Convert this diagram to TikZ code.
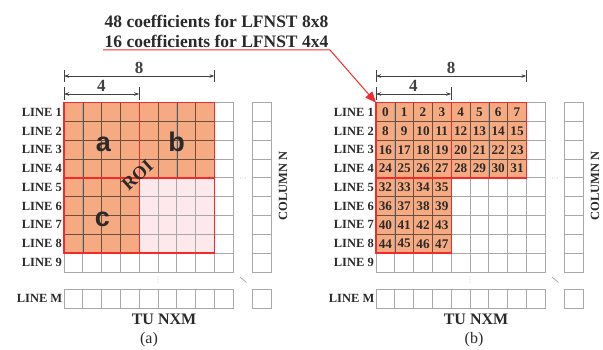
\documentclass[tikz,border=0pt]{standalone}
\usepackage{fontspec}
\setmainfont{Liberation Serif}
\newfontfamily\sansf{Liberation Sans}
\usetikzlibrary{arrows.meta}
\definecolor{orng}{HTML}{F6AA82}
\definecolor{pnk}{HTML}{FDE9EC}
\definecolor{redl}{HTML}{F42A2A}
\definecolor{gridg}{HTML}{A8A8A8}
\definecolor{darkl}{HTML}{6A4E40}
\definecolor{dimc}{HTML}{404040}
\definecolor{txt}{HTML}{2A2A2A}
\def\cs{18.8}
\def\nx{188.3}
\def\my{186.6}
\tikzset{
  cellgrid/.style={draw=gridg, line width=0.8pt},
  innergrid/.style={draw=darkl, line width=0.6pt},
  redbox/.style={draw=redl, line width=1.3pt},
  linelab/.style={anchor=east, font=\fontsize{12.5}{12.5}\selectfont\bfseries, text=txt, inner sep=1pt},
  dimline/.style={draw=dimc, line width=0.8pt, {Stealth[length=5pt,width=3.5pt]}-{Stealth[length=5pt,width=3.5pt]}},
  dimtick/.style={draw=dimc, line width=0.8pt},
  dimlab/.style={font=\fontsize{17}{17}\selectfont\bfseries, text=dimc, inner sep=0pt},
  numlab/.style={font=\fontsize{13.2}{13.2}\selectfont\bfseries, text=txt, inner sep=0pt},
  biglet/.style={font=\sansf\fontsize{27}{27}\selectfont\bfseries, text=txt, inner sep=0pt, anchor=base},
  collab/.style={font=\fontsize{12.5}{12.5}\selectfont\bfseries, text=txt, rotate=90, inner sep=0pt},
  tulab/.style={font=\fontsize{16}{16}\selectfont\bfseries, text=txt, inner sep=0pt},
  caplab/.style={font=\fontsize{16}{16}\selectfont, text=txt, inner sep=0pt},
  toplab/.style={font=\fontsize{17.5}{17.5}\selectfont\bfseries, text=txt, anchor=west, inner sep=0pt},
  dotsg/.style={fill=gray!80},
}
\newcommand\gridbase[2]{%
  \foreach \r in {0,...,8}{%
    \foreach \c in {0,...,8}{\draw[cellgrid] ({\c*\cs},{\r*\cs}) rectangle ++(\cs,\cs);}
    \draw[cellgrid] (\nx,{\r*\cs}) rectangle ++(\cs,\cs);}
  \foreach \c in {0,...,8}{\draw[cellgrid] ({\c*\cs},\my) rectangle ++(\cs,\cs);}
  \draw[cellgrid] (\nx,\my) rectangle ++(\cs,\cs);
  % inner dark lines of the L region
  \foreach \r in {0,...,3}{\foreach \c in {0,...,7}{\draw[innergrid] ({\c*\cs},{\r*\cs}) rectangle ++(\cs,\cs);}}
  \foreach \r in {4,...,7}{\foreach \c in {0,...,3}{\draw[innergrid] ({\c*\cs},{\r*\cs}) rectangle ++(\cs,\cs);}}
  % line labels
  \foreach \r in {1,...,9}{\node[linelab] (#1l\r) at (-1,{(\r-0.5)*\cs}) {LINE \r};}
  \node[linelab] (#1lM) at (-0.5,{\my+\cs/2}) {LINE M};
  % dimensions
  \draw[dimtick] (0,-32.7) -- (0,-20.7) (150.4,-32.7) -- (150.4,-20.7);
  \draw[dimline] (0,-26.7) -- (150.4,-26.7);
  \node[dimlab] (#1d8) at (75.2,-35) {8};
  \draw[dimtick] (0,-15.7) -- (0,-2.7) (75.2,-15.7) -- (75.2,-2.7);
  \draw[dimline] (0,-8.7) -- (75.2,-8.7);
  \node[dimlab] (#1d4) at (37.4,-16.5) {4};
  % dots
  \foreach \x in {176.5,179,181.5}{\fill[dotsg] (\x,75.3) circle (0.45);}
  \foreach \y in {174.5,177,179.5}{\fill[dotsg] (94,\y) circle (0.45);}
  \draw[gray!80, line width=0.6pt] (176,174.3) -- (182.5,179.8);
  % column and bottom labels
  \node[collab] (#1col) at (219,83.3) {COLUMN N};
  \node[tulab] (#1tu) at (100,216.3) {TU NXM};
  \node[caplab] (#1cap) at (#2,237.3) {(\ifx a#1a\else b\fi)};
}
\begin{document}
\begin{tikzpicture}[x=1pt,y=-1pt]
\useasboundingbox (0,0) rectangle (603,350);
% ---------- panel (a)
\begin{scope}[shift={(64,102.7)}]
  \fill[pnk] (4*\cs,4*\cs) rectangle (8*\cs,8*\cs);
  \fill[orng] (0,0) rectangle (8*\cs,4*\cs);
  \fill[orng] (0,0) rectangle (4*\cs,8*\cs);
  \gridbase{a}{85}
  \draw[redbox] (0,0) rectangle (8*\cs,8*\cs);
  \draw[redbox] (0,4*\cs) -- (8*\cs,4*\cs);
  \draw[redbox] (4*\cs,0) -- (4*\cs,8*\cs);
  \node[biglet] (la) at (39.3,49) {a};
  \node[biglet] (lb) at (112.7,49) {b};
  \node[biglet] (lc) at (38.5,124) {c};
  \node[font=\fontsize{18.5}{18.5}\selectfont\bfseries, text=txt, rotate=42, inner sep=0pt] (roi) at (73.5,72.5) {ROI};
\end{scope}
% ---------- panel (b)
\begin{scope}[shift={(376,102.7)}]
  \coordinate (borigin) at (0,0);
  \fill[orng] (0,0) rectangle (8*\cs,4*\cs);
  \fill[orng] (0,0) rectangle (4*\cs,8*\cs);
  \gridbase{b}{98}
  \draw[redbox] (0,0) -- (8*\cs,0) -- (8*\cs,4*\cs) -- (4*\cs,4*\cs) -- (4*\cs,8*\cs) -- (0,8*\cs) -- cycle;
  \draw[redbox] (0,4*\cs) -- (4*\cs,4*\cs);
  \draw[redbox] (4*\cs,0) -- (4*\cs,4*\cs);
  \foreach \n in {0,...,31}{%
    \pgfmathtruncatemacro\rr{int(\n/8)}\pgfmathtruncatemacro\cc{mod(\n,8)}%
    \node[numlab] (n\n) at ({(\cc+0.5)*\cs},{(\rr+0.5)*\cs}) {\n};}
  \foreach \n in {32,...,47}{%
    \pgfmathtruncatemacro\rr{4+int((\n-32)/4)}\pgfmathtruncatemacro\cc{mod(\n-32,4)}%
    \node[numlab] (n\n) at ({(\cc+0.5)*\cs},{(\rr+0.5)*\cs}) {\n};}
\end{scope}
% ---------- top text and arrow
\node[toplab] (coefA) at (104.5,21) {48 coefficients for LFNST 8x8};
\node[toplab] (coefB) at (104.5,41) {16 coefficients for LFNST 4x4};
\coordinate (ulstart) at (103,50);
\coordinate (ulbend) at (330,50);
\draw[draw=redl, line width=1pt, -{Triangle[length=11pt,width=9pt]}] (ulstart) -- (ulbend) -- (borigin);
\end{tikzpicture}
\end{document}
